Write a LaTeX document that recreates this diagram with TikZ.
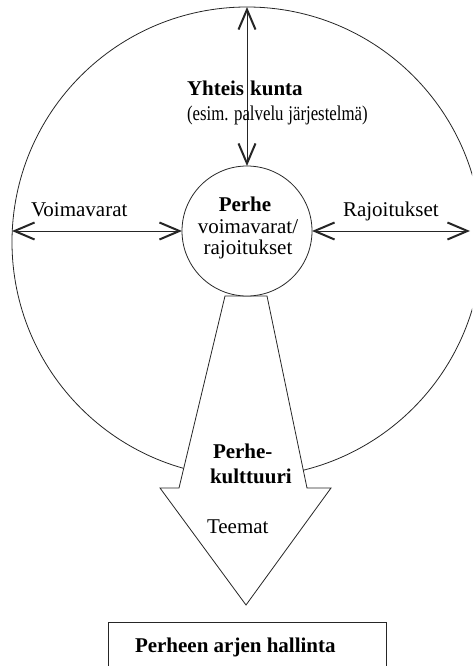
\documentclass[tikz,border=0pt]{standalone}
\usepackage{fontspec}
\setmainfont{Liberation Serif}
\usetikzlibrary{arrows.meta}
\begin{document}
\begin{tikzpicture}[x=1pt,y=-1pt,
  line/.style={line width=0.8pt, draw=black!85},
  barb/.tip={Straight Barb[length=20pt,width=17pt,line width=2pt]},
  dbl/.style={line, barb-barb},
  lbl/.style={font=\fontsize{21}{23}\selectfont, inner sep=0pt, outer sep=0pt},
  blbl/.style={font=\fontsize{21}{23}\selectfont\bfseries, inner sep=0pt, outer sep=0pt},
]
\useasboundingbox (0,0) rectangle (472,666);
\clip (0,0) rectangle (472,666);
% outer circle: society
\node[circle, line, minimum size=470pt, inner sep=0pt, outer sep=0pt] (big) at (247,242) {};
% family culture arrow
\draw[line, fill=white] (225,296) -- (267,296) -- (307,488) -- (331,488) -- (246,605)
  -- (160,488) -- (179,488) -- cycle;
% family circle
\node[circle, line, fill=white, minimum size=130pt, inner sep=0pt, outer sep=0pt] (fam) at (247,231) {};
% bottom box
\node[rectangle, line, minimum width=278pt, minimum height=70pt, anchor=north west,
  inner sep=0pt, outer sep=0pt] (box) at (108,622) {};
% connectors
\coordinate (rend) at (470,231);
\draw[dbl] (big.north) -- (fam.north);
\draw[dbl] (fam.west -| big.west) -- (fam.west);
\draw[dbl] (fam.east) -- (rend);
% labels
\node[blbl, anchor=base west] (yk) at (187,96) {Yhteis\hspace{6pt}kunta};
\node[lbl, anchor=base west] (esim) at (187,121) {\scalebox{0.8}[1]{(esim. palvelu\hspace{6pt}järjestelmä)}};
\node[lbl, anchor=base west] (voima) at (31,216) {Voimavarat};
\node[lbl, anchor=base west] (rajo) at (343,216) {Rajoitukset};
\node[blbl, anchor=base] (perhe) at (245,211) {Perhe};
\node[lbl, anchor=base] (pv) at (248,233) {voimavarat/};
\node[lbl, anchor=base] (pr) at (248,254) {rajoitukset};
\node[blbl, anchor=base west] (pk1) at (213,458) {Perhe-};
\node[blbl, anchor=base west] (pk2) at (210,483) {kulttuuri};
\node[lbl, anchor=base west] (teemat) at (207,533) {Teemat};
\node[blbl, anchor=base west] (arki) at (135,652) {Perheen arjen hallinta};
\end{tikzpicture}
\end{document}
